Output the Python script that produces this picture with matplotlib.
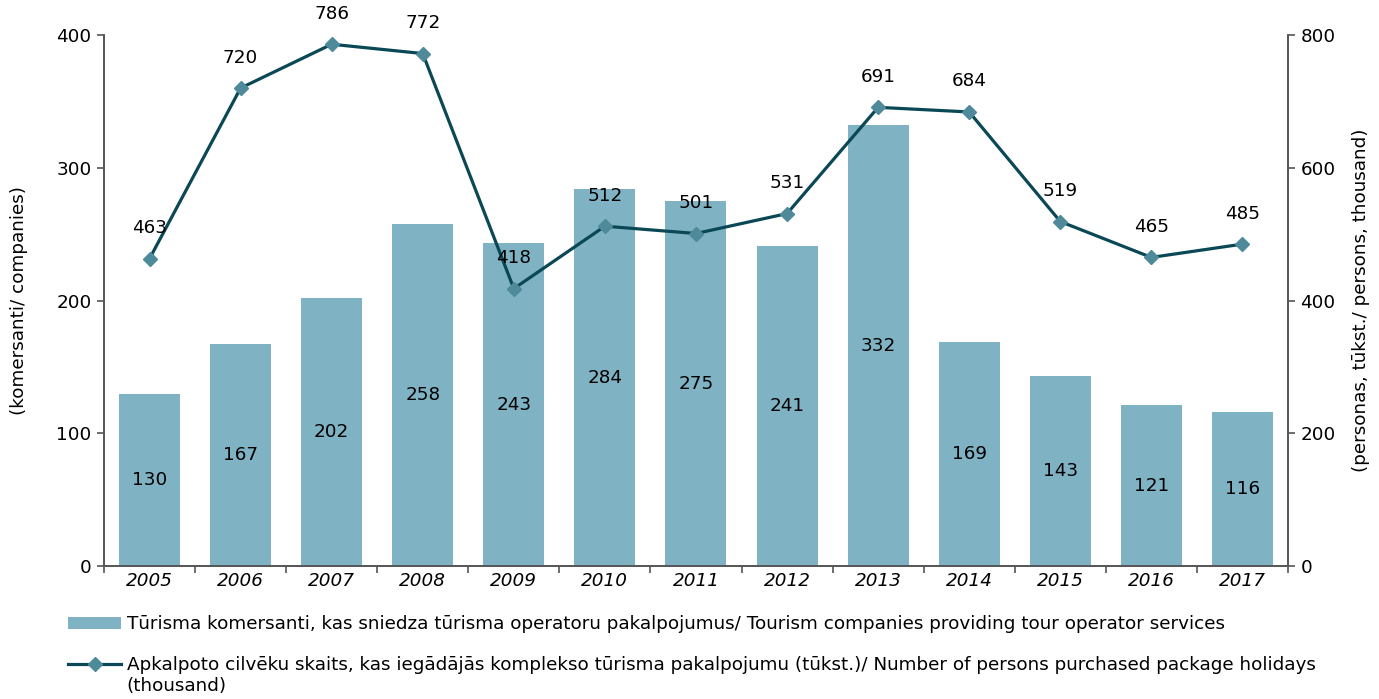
import matplotlib
matplotlib.use("Agg")
import matplotlib.pyplot as plt
import numpy as np

years = ["2005", "2006", "2007", "2008", "2009", "2010", "2011",
         "2012", "2013", "2014", "2015", "2016", "2017"]
companies = [130, 167, 202, 258, 243, 284, 275, 241, 332, 169, 143, 121, 116]
persons = [463, 720, 786, 772, 418, 512, 501, 531, 691, 684, 519, 465, 485]

bar_label = ("Tūrisma komersanti, kas sniedza tūrisma operatoru pakalpojumus/ "
             "Tourism companies providing tour operator services")
line_label = ("Apkalpoto cilvēku skaits, kas iegādājās komplekso tūrisma pakalpojumu "
              "(tūkst.)/ Number of persons purchased package holidays")
line_label_cont = "(thousand)"

plt.rcParams["font.family"] = ["DejaVu Sans"]
FS = 13.2
BAR_C = "#7fb3c4"
LINE_C = "#0a4856"
MARK_C = "#4f8a9a"
SPINE_C = "#555555"

fig = plt.figure(figsize=(13.79, 6.99), dpi=100)
ax = fig.add_axes([0.0754, 0.190, 0.8586, 0.760])
ax2 = ax.twinx()

x = np.arange(len(years))
bars = ax.bar(x, companies, width=0.67, color=BAR_C, zorder=2, label=bar_label)
for xi, v in zip(x, companies):
    ax.text(xi, v / 2, str(v), ha="center", va="center", fontsize=FS, color="black")

ln, = ax2.plot(x, persons, color=LINE_C, lw=2.3, marker="D", markersize=7.5,
               markerfacecolor=MARK_C, markeredgecolor=MARK_C, zorder=3,
               label=line_label)
for xi, v in zip(x, persons):
    ax2.annotate(str(v), (xi, v), xytext=(0, 22), textcoords="offset points",
                 ha="center", va="center", fontsize=FS, color="black")

ax.set_xlim(-0.5, len(years) - 0.5)
ax.set_ylim(0, 400)
ax2.set_ylim(0, 800)
ax.set_yticks([0, 100, 200, 300, 400])
ax2.set_yticks([0, 200, 400, 600, 800])

# category boundaries carry the tick marks, labels sit at bar centres
ax.set_xticks(np.arange(-0.5, len(years), 1.0))
ax.set_xticklabels([])
ax.set_xticks(x, minor=True)
ax.set_xticklabels(years, minor=True, fontsize=FS, fontstyle="italic")
ax.tick_params(axis="x", which="major", length=5, color=SPINE_C, width=1.2)
ax.tick_params(axis="x", which="minor", length=0, pad=4)

for a in (ax, ax2):
    a.spines["top"].set_visible(False)
    for s in ("left", "right", "bottom"):
        a.spines[s].set_color(SPINE_C)
        a.spines[s].set_linewidth(1.2)
ax.tick_params(axis="y", length=5, color=SPINE_C, width=1.2, labelsize=FS, pad=4)
ax2.tick_params(axis="y", length=5, color=SPINE_C, width=1.2, labelsize=FS, pad=4)

ax.set_ylabel("(komersanti/ companies)", fontsize=FS, labelpad=20)
ax2.set_ylabel("(personas, tūkst./ persons, thousand)", fontsize=FS, labelpad=12)

leg = fig.legend(handles=[bars, ln], loc="upper left", bbox_to_anchor=(0.044, 0.130),
                 frameon=False, fontsize=FS, handlelength=2.9, handletextpad=0.3,
                 labelspacing=1.25, borderaxespad=0)

# the second legend entry wraps onto a continuation line below its text
fig.canvas.draw()
bb = leg.get_texts()[1].get_window_extent()
fx, fy = fig.transFigure.inverted().transform((bb.x0, bb.y0))
fig.text(fx, fy - 0.004, line_label_cont, ha="left", va="top", fontsize=FS)

fig.savefig("out.png", dpi=100)
